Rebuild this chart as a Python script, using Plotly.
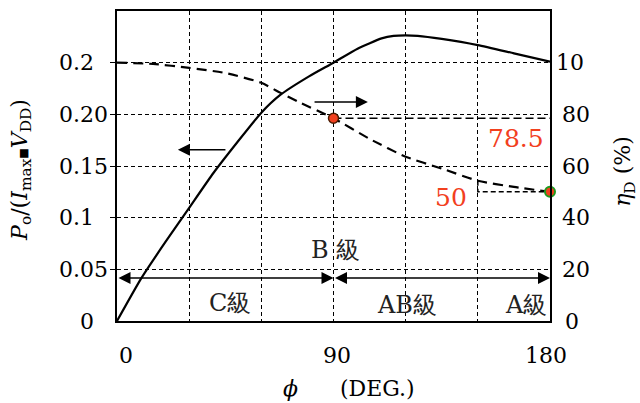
import plotly.graph_objects as go

# ---- data ----
phi_po = [0, 10, 20, 30, 40, 50, 60, 68, 80, 90, 100, 110, 115, 120, 125, 135, 150, 165, 180]
po = [0, 0.041, 0.076, 0.1095, 0.143, 0.173, 0.2016, 0.219, 0.237, 0.250, 0.2635, 0.2735,
      0.276, 0.2765, 0.276, 0.273, 0.267, 0.259, 0.251]

phi_eta = [0, 15, 30, 45, 60, 68, 75, 90, 105, 120, 135, 150, 165, 180]
eta = [100, 99.5, 98, 96, 92.2, 88.3, 85, 78.5, 70.5, 63.6, 59.0, 54.3, 51.9, 50]

mark_phi = [90, 180]
mark_eta = [78.5, 50]

x_ticks = [0, 30, 60, 90, 120, 150, 180]
x_ticktext = ["0", "", "", "90", "", "", "180"]
y_ticks = [0, 0.05, 0.1, 0.15, 0.20, 0.25]
y_ticktext = ["0", "0.05", "0.1", "0.15", "0.20", "0.2"]
y2_ticks = [0, 20, 40, 60, 80, 100]
y2_ticktext = ["0", "20", "40", "60", "80", "10"]

class_labels = ["C級", "B 級", "AB級", "A級"]
class_x = [47, 91, 120.5, 170]
class_y = [0.0174, 0.0688, 0.0155, 0.0155]

FONT = "'DejaVu Serif', 'Liberation Serif', serif"
RED = "#f2401e"

fig = go.Figure()
fig.add_trace(go.Scatter(x=phi_po, y=po, mode="lines", line=dict(color="black", width=2.2, shape="spline", smoothing=0.5),
                         yaxis="y", showlegend=False, hoverinfo="skip"))
fig.add_trace(go.Scatter(x=phi_eta, y=eta, mode="lines",
                         line=dict(color="black", width=2.2, dash="10px,6px", shape="spline", smoothing=0.6),
                         yaxis="y2", showlegend=False, hoverinfo="skip"))
# reference dashed lines
fig.add_trace(go.Scatter(x=[mark_phi[0], 180], y=[mark_eta[0], mark_eta[0]], mode="lines",
                         line=dict(color="black", width=1.5, dash="8px,4px"), yaxis="y2",
                         showlegend=False, hoverinfo="skip"))
fig.add_trace(go.Scatter(x=[150, 150, 180], y=[54.3, mark_eta[1], mark_eta[1]], mode="lines",
                         line=dict(color="black", width=1.5, dash="5px,3px"), yaxis="y2",
                         showlegend=False, hoverinfo="skip"))
fig.add_trace(go.Scatter(x=mark_phi, y=mark_eta, mode="markers", yaxis="y2", cliponaxis=False,
                         marker=dict(size=10, color=RED, line=dict(color=["#4a1a00", "#1f9a1f"], width=[1.5, 2])),
                         showlegend=False, hoverinfo="skip"))

ann = []
tf = dict(size=22, family=FONT, color="black")
# tick labels
for v, t in zip(y_ticks, y_ticktext):
    if t == "0":
        ann.append(dict(x=0, xref="paper", y=v, yref="y", text=t, showarrow=False, xanchor="center", xshift=-30,
                        yanchor="middle", font=tf))
    else:
        ann.append(dict(x=0, xref="paper", y=v, yref="y", text=t, showarrow=False, xanchor="left", xshift=-60,
                        yanchor="middle", font=tf))
for v, t in zip(y2_ticks, y2_ticktext):
    if t == "10":
        ann.append(dict(x=1, xref="paper", y=v, yref="y2", text=t, showarrow=False, xanchor="left", xshift=4,
                        yanchor="middle", font=tf))
    else:
        ann.append(dict(x=1, xref="paper", y=v, yref="y2", text=t, showarrow=False, xanchor="center",
                        xshift=22 if t == "0" else 26, yanchor="middle", font=tf))
xshift_map = {"0": 9, "90": 3, "180": -4}
for v, t in zip(x_ticks, x_ticktext):
    if t:
        ann.append(dict(x=v, xref="x", y=0, yref="paper", text=t, showarrow=False, xanchor="center",
                        xshift=xshift_map[t], yanchor="top", yshift=-20, font=tf))

# axis titles
ann.append(dict(x=-0.222, xref="paper", y=0.487, yref="paper", textangle=-90, showarrow=False,
                xanchor="center", yanchor="middle",
                text="<i>P</i><sub>o</sub>/(<i>I</i><sub>max</sub><span style='font-size:11px'>■</span><i>V</i><sub>DD</sub>)",
                font=tf))
ann.append(dict(x=1.173, xref="paper", y=0.484, yref="paper", textangle=-90, showarrow=False,
                xanchor="center", yanchor="middle",
                text="<i>η</i><sub>D</sub> (%)", font=tf))
ann.append(dict(x=0.535, xref="paper", y=-0.219, yref="paper", showarrow=False,
                xanchor="center", yanchor="middle",
                text="<i>ϕ</i>\u00a0\u00a0\u00a0\u00a0\u00a0\u00a0(DEG.)", font=tf))

# value labels
ann.append(dict(x=165.8, xref="x", y=70.5, yref="y2", text="78.5", showarrow=False,
                font=dict(size=25, family=FONT, color=RED)))
ann.append(dict(x=138.8, xref="x", y=48.0, yref="y2", text="50", showarrow=False,
                font=dict(size=25, family=FONT, color=RED)))

# class labels
for t, x, y in zip(class_labels, class_x, class_y):
    ann.append(dict(x=x, xref="x", y=y, yref="y", text=t, showarrow=False,
                    font=dict(size=24, family=FONT, color="#222")))

# arrows
arrow_common = dict(showarrow=True, text="", arrowcolor="black", arrowwidth=1.5, arrowhead=2, arrowsize=1.6,
                    standoff=0, startstandoff=0, xref="x", yref="y", axref="x", ayref="y")
ann.append(dict(x=90, y=0.0417, ax=0, ay=0.0417, arrowside="end+start", startarrowhead=2, startarrowsize=1.6,
                **arrow_common))
ann.append(dict(x=180, y=0.0417, ax=90, ay=0.0417, arrowside="end+start", startarrowhead=2, startarrowsize=1.6,
                **arrow_common))
ann.append(dict(x=104.3, y=0.212, ax=81.5, ay=0.212, **arrow_common))
ann.append(dict(x=25.3, y=0.1657, ax=45.7, ay=0.1657, **arrow_common))

grid = dict(showgrid=True, gridcolor="black", gridwidth=1.2, griddash="4px,3px")

fig.update_layout(
    width=640, height=403,
    margin=dict(l=117, r=90, t=11, b=82, autoexpand=False),
    paper_bgcolor="white", plot_bgcolor="white",
    font=dict(family=FONT, color="black"),
    xaxis=dict(range=[0, 180], tickvals=x_ticks, ticktext=x_ticktext, showticklabels=False,
               showline=True, linecolor="black", linewidth=2, mirror=True, zeroline=False, **grid),
    yaxis=dict(range=[0, 0.30], tickvals=y_ticks[1:], showticklabels=False, ticks="outside", ticklen=5,
               tickcolor="black", tickwidth=1,
               showline=True, linecolor="black", linewidth=2, mirror=True, zeroline=False, **grid),
    yaxis2=dict(range=[0, 120], overlaying="y", side="right", showgrid=False, showticklabels=False,
                zeroline=False, showline=False),
    annotations=ann,
)

fig.write_html("out.html", config={"displayModeBar": False},
               post_script="document.body.style.margin='0';")
